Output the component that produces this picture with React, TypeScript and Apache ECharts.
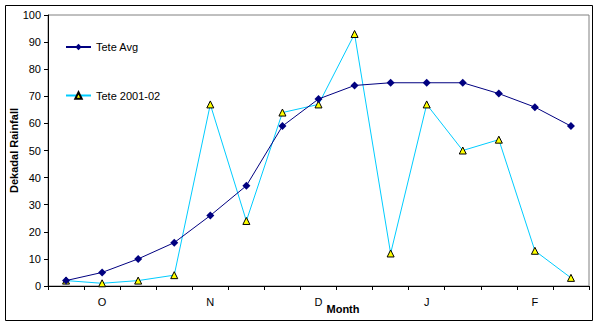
import React, { useEffect, useRef } from "react";
import * as echarts from "echarts";

const dekads = [
  "Oct-1", "Oct-2", "Oct-3",
  "Nov-1", "Nov-2", "Nov-3",
  "Dec-1", "Dec-2", "Dec-3",
  "Jan-1", "Jan-2", "Jan-3",
  "Feb-1", "Feb-2", "Feb-3",
];
const teteAvg = [2, 5, 10, 16, 26, 37, 59, 69, 74, 75, 75, 75, 71, 66, 59];
const tete2001 = [2, 1, 2, 4, 67, 24, 64, 67, 93, 12, 67, 50, 54, 13, 3];
const yTicks = { min: 0, max: 100, interval: 10 };

const FONT = "'Liberation Sans', Arial, sans-serif";

export default function App() {
  const ref = useRef<HTMLDivElement>(null);
  useEffect(() => {
    document.body.style.margin = "0";
    const chart = echarts.init(ref.current!, null, { renderer: "svg" });
    chart.setOption({
      animation: false,
      backgroundColor: "#ffffff",
      textStyle: { fontFamily: FONT },
      grid: {
        left: 48,
        right: 10,
        top: 15,
        bottom: 40,
        show: true,
        borderColor: "#808080",
        borderWidth: 1,
        containLabel: false,
        outerBoundsMode: "none",
      },
      legend: {
        orient: "vertical",
        left: 65,
        top: 41.5,
        padding: 0,
        itemGap: 37.5,
        itemWidth: 25,
        itemHeight: 8,
        textStyle: { fontFamily: FONT, fontSize: 11, color: "#000" },
        data: ["Tete Avg", "Tete 2001-02"],
      },
      xAxis: {
        type: "category",
        data: dekads,
        boundaryGap: true,
        axisLine: { show: true, lineStyle: { color: "#000", width: 1 } },
        axisTick: { show: true, interval: 0, length: 4, lineStyle: { color: "#000" } },
        axisLabel: {
          interval: (i: number) => i % 3 === 1,
          formatter: (v: string) => v.charAt(0),
          margin: 10,
          fontFamily: FONT,
          fontSize: 11,
          color: "#000",
        },
        splitLine: { show: false },
      },
      yAxis: {
        type: "value",
        min: yTicks.min,
        max: yTicks.max,
        interval: yTicks.interval,
        name: "Dekadal Rainfall",
        nameLocation: "middle",
        nameGap: 29,
        nameMoveOverlap: false,
        nameTextStyle: { fontFamily: FONT, fontSize: 11, fontWeight: "bold", color: "#000" },
        axisLine: { show: true, lineStyle: { color: "#000", width: 1 } },
        axisTick: { show: true, length: 4, lineStyle: { color: "#000" } },
        axisLabel: { margin: 7, fontFamily: FONT, fontSize: 11, color: "#000" },
        splitLine: { show: false },
      },
      graphic: [
        {
          type: "rect",
          shape: { x: 5.5, y: 5.5, width: 587, height: 315 },
          style: { fill: "none", stroke: "#000", lineWidth: 1 },
          silent: true,
          z: 100,
        },
        {
          type: "text",
          x: 343,
          y: 309,
          style: {
            text: "Month",
            fontFamily: FONT,
            fontSize: 11,
            fontWeight: "bold",
            fill: "#000",
            align: "center",
            verticalAlign: "middle",
          },
        },
      ],
      series: [
        {
          name: "Tete Avg",
          type: "line",
          data: teteAvg,
          symbol: "diamond",
          symbolSize: 8,
          itemStyle: { color: "#000080" },
          lineStyle: { color: "#000080", width: 1 },
          z: 3,
        },
        {
          name: "Tete 2001-02",
          type: "line",
          data: tete2001,
          symbol: "triangle",
          symbolSize: 7,
          itemStyle: { color: "#FFFF00", borderColor: "#000", borderWidth: 1 },
          lineStyle: { color: "#00CCFF", width: 1 },
          z: 2,
        },
      ],
    });
    return () => chart.dispose();
  }, []);
  return <div ref={ref} style={{ width: 599, height: 326 }} />;
}
